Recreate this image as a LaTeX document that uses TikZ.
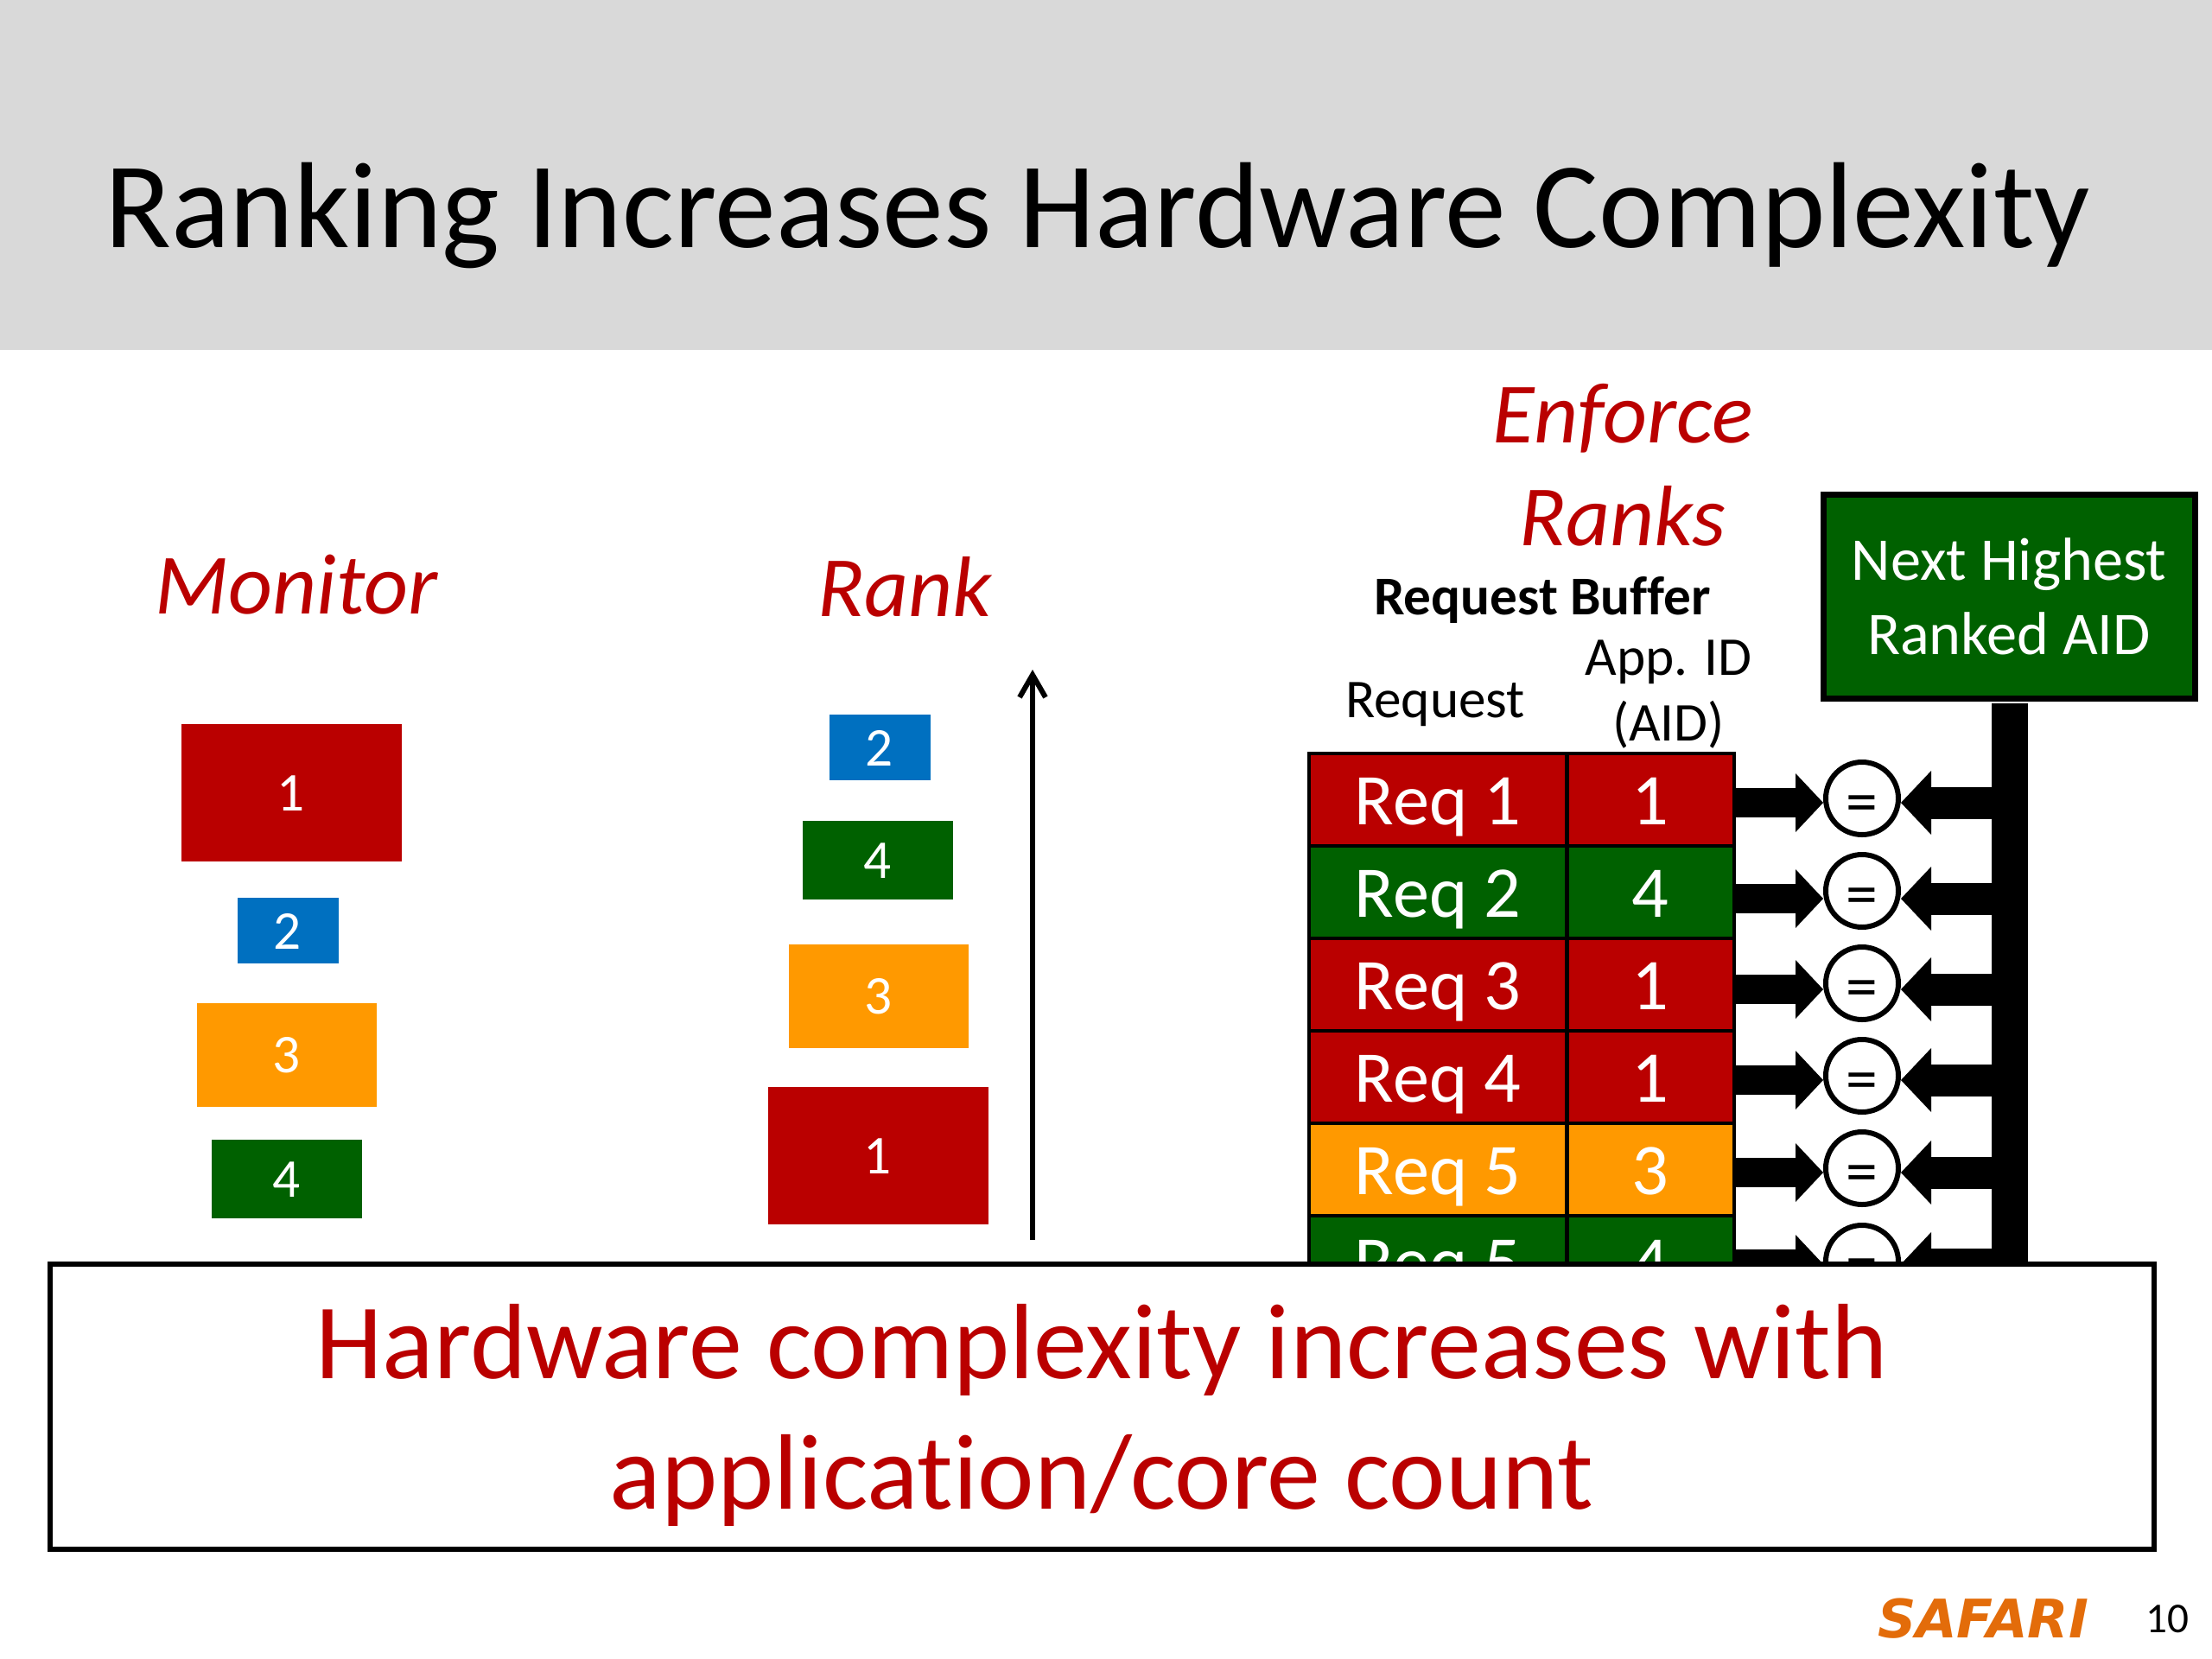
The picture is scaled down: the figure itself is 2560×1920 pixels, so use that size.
\documentclass[tikz,border=0pt]{standalone}
\usepackage{fontspec}
\setmainfont[Ligatures=NoCommon]{Carlito}
\newfontfamily\safarifont{DejaVu Sans}
\usetikzlibrary{arrows.meta}
\definecolor{bandgrey}{HTML}{D9D9D9}
\definecolor{darkred}{HTML}{BA0000}
\definecolor{darkgreen}{HTML}{006100}
\definecolor{appblue}{HTML}{0070C0}
\definecolor{apporange}{HTML}{FF9900}
\definecolor{safariorange}{HTML}{E36C0A}
\tikzset{
  block/.style={inner sep=0pt,outer sep=0pt,text=white,text height=4.2mm,font=\fontsize{18}{22}\selectfont},
  bigblock/.style={block,fill=darkred,minimum width=25.5mm,minimum height=15.9mm},
  tinyblock/.style={block,fill=appblue,minimum width=11.7mm,minimum height=7.6mm},
  wideblock/.style={block,fill=apporange,minimum width=20.8mm,minimum height=12mm},
  lowblock/.style={block,fill=darkgreen,minimum width=17.4mm,minimum height=9.1mm},
  heading/.style={anchor=base,text=darkred,font=\fontsize{28.3}{33.7}\selectfont\itshape},
  smalllabel/.style={anchor=base,font=\fontsize{18}{22}\selectfont},
  cell/.style={draw=black,line width=0.4mm,inner sep=0pt,outer sep=0pt,text=white,minimum height=10.7mm,text height=5.8mm,text depth=0pt,font=\fontsize{24}{29}\selectfont},
  reqcell/.style={cell,minimum width=29.8mm},
  aidcell/.style={cell,minimum width=19.3mm},
  eqnode/.style={draw=black,circle,fill=white,line width=0.6mm,inner sep=0pt,outer sep=0.3mm,minimum size=8.4mm,text height=5.6mm,text depth=0pt,font=\fontsize{21}{25}\selectfont},
  fatin/.style={line width=3.4mm,-{Triangle[length=3.2mm,width=6.8mm,line width=0pt]}},
  fatout/.style={line width=3.7mm,-{Triangle[length=3.5mm,width=7.4mm,line width=0pt]}}
}
\begin{document}
\begin{tikzpicture}[x=0.1mm,y=-0.1mm]
\useasboundingbox (0,0) rectangle (2560,1920);
\fill[white] (0,0) rectangle (2560,1920);
\node[fill=bandgrey,inner sep=0pt,outer sep=0pt,minimum width=256mm,minimum height=40.5mm] (band) at (1280,202.5) {};
\node[anchor=base,font=\fontsize{40.3}{48}\selectfont] (title) at (1270,286) {Ranking Increases Hardware Complexity};

\node[heading] (monitor) at (343,710) {Monitor};
\node[bigblock] (mon1) at (337,917) {1};
\node[tinyblock] (mon2) at (333,1077) {2};
\node[wideblock] (mon3) at (332,1221) {3};
\node[lowblock] (mon4) at (332,1364) {4};

\node[heading] (rank) at (1047,713) {Rank};
\node[tinyblock] (rank2) at (1018,865) {2};
\node[lowblock] (rank4) at (1016,995) {4};
\node[wideblock] (rank3) at (1017,1153) {3};
\node[bigblock] (rank1) at (1016,1337) {1};
\coordinate (rankfoot) at (1195,1435);
\coordinate (ranktop) at (1195,775);
\draw[-{Straight Barb[length=2.6mm,width=3mm]},line width=0.6mm] (rankfoot) -- (ranktop);

\node[heading,align=center] (enforce) at (1878,631) {Enforce\\Ranks};
\node[smalllabel,font=\fontsize{18}{22}\selectfont\bfseries] (buffer) at (1785,711) {Request Buffer};
\node[smalllabel] (request) at (1661,830) {Request};
\node[smalllabel] (appid) at (1931,781) {App. ID};
\node[smalllabel] (aidname) at (1931,857) {(AID)};

\node[draw=black,fill=darkgreen,line width=0.7mm,inner sep=0pt,outer sep=0pt,minimum width=43mm,minimum height=23.6mm,text=white,align=center,font=\fontsize{20}{24.4}\selectfont] (next) at (2325,690) {Next Highest\\Ranked AID};
\node[fill=black,inner sep=0pt,outer sep=0pt,minimum width=4.2mm,minimum height=65mm] (pole) at (2326,1139) {};

\node[reqcell,fill=darkred] (req1) at (1664,925) {Req 1};
\node[aidcell,fill=darkred] (aid1) at (1910,925) {1};
\node[reqcell,fill=darkgreen] (req2) at (1664,1032) {Req 2};
\node[aidcell,fill=darkgreen] (aid2) at (1910,1032) {4};
\node[reqcell,fill=darkred] (req3) at (1664,1139) {Req 3};
\node[aidcell,fill=darkred] (aid3) at (1910,1139) {1};
\node[reqcell,fill=darkred] (req4) at (1664,1246) {Req 4};
\node[aidcell,fill=darkred] (aid4) at (1910,1246) {1};
\node[reqcell,fill=apporange] (req5) at (1664,1353) {Req 5};
\node[aidcell,fill=apporange] (aid5) at (1910,1353) {3};
\node[reqcell,fill=darkgreen] (req6) at (1664,1460) {Req 5};
\node[aidcell,fill=darkgreen] (aid6) at (1910,1460) {4};

\node[eqnode] (eq1) at (2155,924) {=};
\node[eqnode] (eq2) at (2155,1031) {=};
\node[eqnode] (eq3) at (2155,1138) {=};
\node[eqnode] (eq4) at (2155,1245) {=};
\node[eqnode] (eq5) at (2155,1352) {=};
\node[eqnode] (eq6) at (2155,1460) {=};

\coordinate (lane1) at (2155,929);
\coordinate (lane2) at (2155,1040);
\coordinate (lane3) at (2155,1145);
\coordinate (lane4) at (2155,1250);
\coordinate (lane5) at (2155,1357);
\coordinate (lane6) at (2155,1463);
\draw[fatin] (aid1.east |- lane1) -- (eq1.west |- lane1);
\draw[fatin] (aid2.east |- lane2) -- (eq2.west |- lane2);
\draw[fatin] (aid3.east |- lane3) -- (eq3.west |- lane3);
\draw[fatin] (aid4.east |- lane4) -- (eq4.west |- lane4);
\draw[fatin] (aid5.east |- lane5) -- (eq5.west |- lane5);
\draw[fatin] (aid6.east |- lane6) -- (eq6.west |- lane6);
\draw[fatout] (pole.west |- lane1) -- (eq1.east |- lane1);
\draw[fatout] (pole.west |- lane2) -- (eq2.east |- lane2);
\draw[fatout] (pole.west |- lane3) -- (eq3.east |- lane3);
\draw[fatout] (pole.west |- lane4) -- (eq4.east |- lane4);
\draw[fatout] (pole.west |- lane5) -- (eq5.east |- lane5);
\draw[fatout] (pole.west |- lane6) -- (eq6.east |- lane6);

\node[draw=black,fill=white,line width=0.6mm,inner sep=0pt,outer sep=0pt,minimum width=243.5mm,minimum height=33mm] (note) at (1275,1628) {};
\node[text=darkred,align=center,font=\fontsize{35.3}{43.1}\selectfont] (notetext) at (1275,1638) {Hardware complexity increases with\\application/core count};

\node[anchor=base,text=safariorange,font=\safarifont\fontsize{17.5}{21}\selectfont\bfseries\itshape] (safari) at (2295,1895) {SAFARI};
\node[anchor=base,font=\fontsize{14}{16}\selectfont] (page) at (2508,1889) {10};
\end{tikzpicture}
\end{document}
